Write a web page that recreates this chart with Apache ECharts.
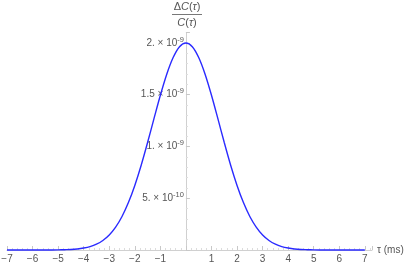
<!DOCTYPE html>
<html><head><meta charset="utf-8">
<script src="https://cdn.jsdelivr.net/npm/echarts@6/dist/echarts.min.js"></script>
<style>html,body{margin:0;padding:0;background:#fff}#c{width:407px;height:266px}</style>
</head><body><div id="c"></div>
<script>
// tau (ms)
const tau = [-7,-6.75,-6.5,-6.25,-6,-5.75,-5.5,-5.25,-5,-4.75,-4.5,-4.25,-4,-3.75,-3.5,-3.25,-3,-2.75,-2.5,-2.25,-2,-1.75,-1.5,-1.25,-1,-0.75,-0.5,-0.25,0,0.25,0.5,0.75,1,1.25,1.5,1.75,2,2.25,2.5,2.75,3,3.25,3.5,3.75,4,4.25,4.5,4.75,5,5.25,5.5,5.75,6,6.25,6.5,6.75,7];
// ΔC/C in units of 1e-9
const ratio = [0,0,0,0,0,0,0,0,0.001,0.003,0.005,0.010,0.019,0.033,0.056,0.092,0.145,0.221,0.324,0.458,0.624,0.819,1.038,1.269,1.495,1.698,1.859,1.964,2.000,1.964,1.859,1.698,1.495,1.269,1.038,0.819,0.624,0.458,0.324,0.221,0.145,0.092,0.056,0.033,0.019,0.010,0.005,0.003,0.001,0,0,0,0,0,0,0,0];
const xTickLabels = {'-7':'−7','-6':'−6','-5':'−5','-4':'−4','-3':'−3','-2':'−2','-1':'−1','1':'1','2':'2','3':'3','4':'4','5':'5','6':'6','7':'7'};
const yTickLabels = {'0.5':['5.','-10'],'1':['1.','-9'],'1.5':['1.5','-9'],'2':['2.','-9']};

const FONT = 'Liberation Sans';
const GL = 7, GR = 35, XMIN = -7, XMAX = 7.28;
const W = 407;
const yOffset = -((W - GL - GR) * (0 - XMIN) / (XMAX - XMIN));
const chart = echarts.init(document.getElementById('c'), null, {renderer:'canvas'});
chart.setOption({
  animation:false,
  grid:{left:GL, right:GR, top:32.6, bottom:16, containLabel:false, outerBoundsMode:'none'},
  xAxis:{
    type:'value', min:XMIN, max:XMAX, interval:1,
    axisLine:{onZero:true, lineStyle:{color:'#d0d0d0', width:1}},
    axisTick:{show:true, inside:true, length:4, lineStyle:{color:'#c8c8c8'}},
    minorTick:{show:true, splitNumber:5, length:2, lineStyle:{color:'#dcdcdc'}},
    splitLine:{show:false},
    axisLabel:{margin:4, color:'#555', fontFamily:FONT, fontSize:10, showMaxLabel:true,
      formatter:v=>{const k=String(Math.round(v)); return Math.abs(v-Math.round(v))<1e-6 && xTickLabels[k] ? xTickLabels[k] : '';}},
    name:'τ (ms)', nameLocation:'end', nameGap:5,
    nameTextStyle:{color:'#555', fontFamily:FONT, fontSize:10, verticalAlign:'middle'}
  },
  yAxis:{
    type:'value', min:0, max:2.1, interval:0.5, position:'left', offset:yOffset,
    axisLine:{onZero:false, lineStyle:{color:'#d0d0d0', width:1}},
    axisTick:{show:true, inside:true, length:4, lineStyle:{color:'#c8c8c8'}},
    minorTick:{show:true, splitNumber:5, length:2, lineStyle:{color:'#dcdcdc'}},
    splitLine:{show:false},
    axisLabel:{margin:2, color:'#555', fontFamily:FONT, fontSize:10,
      formatter:v=>{const k=String(Math.round(v*10)/10); const t=yTickLabels[k]; return t? t[0]+' × 10{s|'+t[1]+'}' : '';},
      rich:{s:{fontSize:7.5, color:'#555', fontFamily:FONT, verticalAlign:'bottom', padding:[0,0,7,0]}}}
  },
  graphic:[
    {type:'text', x:187, y:1, style:{text:'{n|Δ}{i|C}{n|(}{i|τ}{n|)}', align:'center', fill:'#555',
      rich:{n:{fontFamily:FONT, fontSize:11, fill:'#555'}, i:{fontFamily:FONT, fontSize:11, fontStyle:'italic', fill:'#555'}}}},
    {type:'line', shape:{x1:172, y1:14.5, x2:202, y2:14.5}, style:{stroke:'#555', lineWidth:0.8}},
    {type:'text', x:187, y:17.5, style:{text:'{i|C}{n|(}{i|τ}{n|)}', align:'center', fill:'#555',
      rich:{n:{fontFamily:FONT, fontSize:11, fill:'#555'}, i:{fontFamily:FONT, fontSize:11, fontStyle:'italic', fill:'#555'}}}}
  ],
  series:[{
    type:'line', data:tau.map((x,i)=>[x, ratio[i]]), showSymbol:false, smooth:0.3,
    lineStyle:{color:'#2a2aff', width:1.4}, clip:false
  }]
});
</script></body></html>
